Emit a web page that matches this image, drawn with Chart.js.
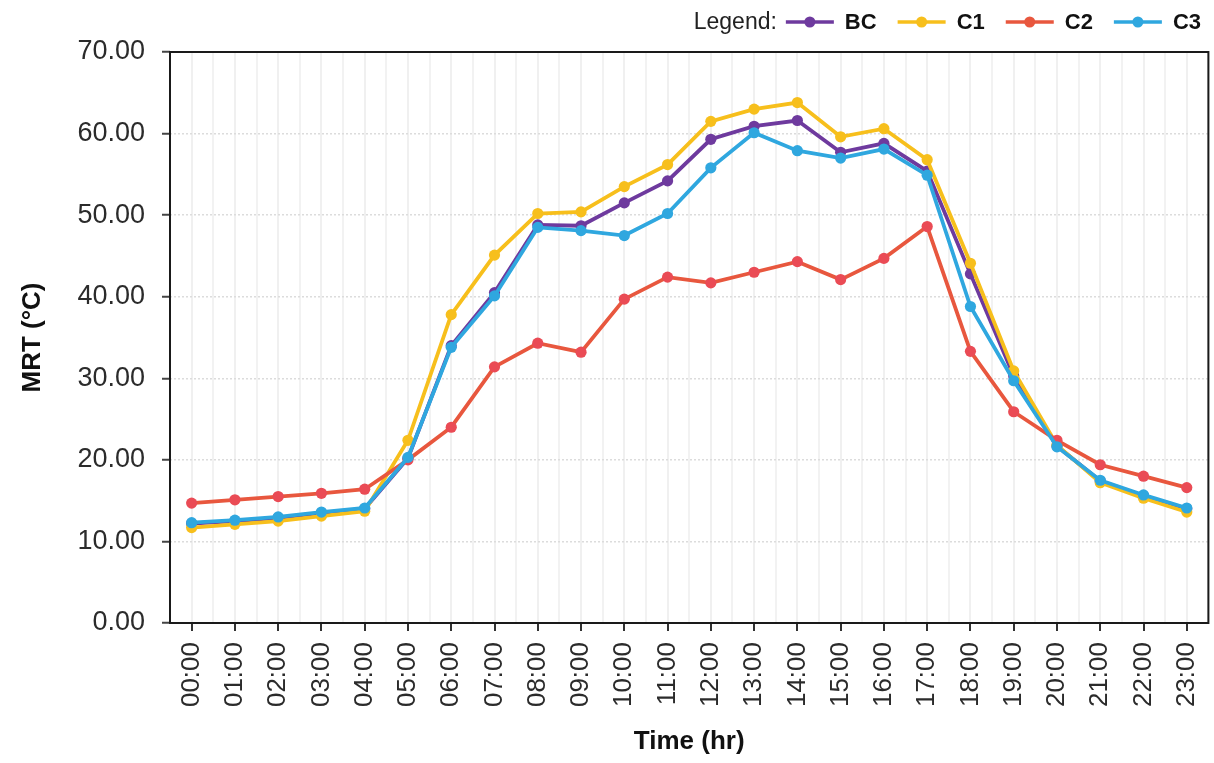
<!DOCTYPE html>
<html>
<head>
<meta charset="utf-8">
<script src="https://cdn.jsdelivr.net/npm/chart.js@4"></script>
<style>
  html, body { margin: 0; padding: 0; background: #ffffff; }
  #wrap { width: 1214px; height: 763px; }
</style>
</head>
<body>
<div id="wrap"><canvas id="mrt" width="1214" height="763"></canvas></div>
<script>
// Hourly mean radiant temperature (°C) per scenario
const hours = ['00:00','01:00','02:00','03:00','04:00','05:00','06:00','07:00','08:00','09:00','10:00','11:00',
               '12:00','13:00','14:00','15:00','16:00','17:00','18:00','19:00','20:00','21:00','22:00','23:00'];
const seriesNames = ['BC', 'C1', 'C2', 'C3'];
const bcValues = [12.2, 12.5, 12.9, 13.5, 14.0, 20.2, 34.0, 40.5, 48.8, 48.7, 51.5, 54.2,
                  59.3, 60.9, 61.6, 57.7, 58.8, 55.4, 42.8, 30.3, 21.7, 17.4, 15.6, 14.0];
const c1Values = [11.7, 12.1, 12.5, 13.1, 13.7, 22.4, 37.8, 45.1, 50.2, 50.4, 53.5, 56.2,
                  61.5, 63.0, 63.8, 59.6, 60.6, 56.8, 44.1, 30.9, 21.8, 17.2, 15.3, 13.6];
const c2Values = [14.7, 15.1, 15.5, 15.9, 16.4, 20.0, 24.0, 31.4, 34.3, 33.2, 39.7, 42.4,
                  41.7, 43.0, 44.3, 42.1, 44.7, 48.6, 33.3, 25.9, 22.4, 19.4, 18.0, 16.6];
const c3Values = [12.3, 12.6, 13.0, 13.6, 14.1, 20.3, 33.8, 40.1, 48.5, 48.1, 47.5, 50.2,
                  55.8, 60.1, 57.9, 57.0, 58.1, 54.9, 38.8, 29.7, 21.6, 17.5, 15.7, 14.1];
const yTicks = [0, 10, 20, 30, 40, 50, 60, 70];

const FONT = "'Liberation Sans', Arial, Helvetica, sans-serif";
const lineColors  = ['#6e3a9e', '#f7bf1c', '#e8573e', '#2fa7df'];
const pointColors = ['#6e3a9e', '#f7bf1c', '#ea4b55', '#2fa7df'];
const valueSets = [bcValues, c1Values, c2Values, c3Values];

const datasets = seriesNames.map((name, i) => ({
  label: name,
  data: valueSets[i],
  borderColor: lineColors[i],
  backgroundColor: pointColors[i],
  pointBackgroundColor: pointColors[i],
  pointBorderWidth: 0,
  pointRadius: 5.6,
  borderWidth: 3.8,
  tension: 0,
  fill: false,
  order: 3 - i,
  xAxisID: 'x',
  yAxisID: 'y'
}));

// Box around the plotting area
const frame = {
  id: 'frame',
  beforeDatasetsDraw(chart) {
    const { ctx, chartArea: a } = chart;
    ctx.save();
    ctx.strokeStyle = '#1a1a1a';
    ctx.lineWidth = 2;
    ctx.strokeRect(a.left, a.top, a.right - a.left, a.bottom - a.top);
    ctx.restore();
  }
};

// Inline legend in the top-right corner: "Legend:" followed by line+dot keys
const inlineLegend = {
  id: 'inlineLegend',
  afterDraw(chart) {
    const ctx = chart.ctx;
    const cy = 22;
    const keyLen = 48, gapText = 11, gapItem = 21;
    const regular = '23px ' + FONT, bold = 'bold 22px ' + FONT;
    ctx.save();
    ctx.font = regular;
    const head = 'Legend:';
    const headW = ctx.measureText(head).width;
    ctx.font = bold;
    const items = chart.data.datasets.map(ds => ({ ds, w: ctx.measureText(ds.label).width }));
    let total = headW + 9;
    items.forEach((it, i) => { total += keyLen + gapText + it.w + (i < items.length - 1 ? gapItem : 0); });
    let x = 1201 - total;
    ctx.textBaseline = 'middle';
    ctx.textAlign = 'left';
    ctx.fillStyle = '#222';
    ctx.font = regular;
    ctx.fillText(head, x, cy + 1);
    x += headW + 9;
    items.forEach((it) => {
      ctx.strokeStyle = it.ds.borderColor;
      ctx.lineWidth = 3.5;
      ctx.beginPath();
      ctx.moveTo(x, cy);
      ctx.lineTo(x + keyLen, cy);
      ctx.stroke();
      ctx.fillStyle = it.ds.borderColor;
      ctx.beginPath();
      ctx.arc(x + keyLen / 2, cy, 5.5, 0, Math.PI * 2);
      ctx.fill();
      x += keyLen + gapText;
      ctx.fillStyle = '#111';
      ctx.font = bold;
      ctx.fillText(it.ds.label, x, cy + 1);
      x += it.w + gapItem;
    });
    ctx.restore();
  }
};

new Chart(document.getElementById('mrt'), {
  type: 'line',
  data: { labels: hours, datasets },
  plugins: [frame, inlineLegend],
  options: {
    responsive: false,
    animation: false,
    devicePixelRatio: 1,
    layout: { padding: { top: 52, right: 4, left: 0, bottom: 0 } },
    plugins: { legend: { display: false }, tooltip: { enabled: false } },
    scales: {
      x: {
        type: 'category',
        position: 'bottom',
        offset: true,
        afterFit(s) { s.height = 140; s.paddingLeft = 0; s.paddingRight = 0; },
        border: { display: false },
        grid: {
          offset: false,
          color: '#f0f0f0',
          lineWidth: 2,
          drawTicks: true,
          tickLength: 8,
          tickColor: '#333',
          tickWidth: 2
        },
        ticks: {
          autoSkip: false,
          minRotation: 90,
          maxRotation: 90,
          padding: 11,
          color: '#2b2b2b',
          font: { family: FONT, size: 26 }
        },
        title: {
          display: true,
          text: 'Time (hr)',
          color: '#111',
          font: { family: FONT, size: 26, weight: 'bold' },
          padding: { top: 0, bottom: 6 }
        }
      },
      xb: {
        type: 'category',
        position: 'bottom',
        offset: true,
        afterFit(s) { s.height = 0; s.paddingLeft = 0; s.paddingRight = 0; },
        border: { display: false },
        grid: { offset: true, color: '#f2f2f2', lineWidth: 2, drawTicks: false },
        ticks: { display: false }
      },
      y: {
        position: 'left',
        min: 0,
        max: 70,
        afterFit(s) { s.width = 170; s.paddingTop = 0; s.paddingBottom = 0; },
        afterBuildTicks(s) { s.ticks = yTicks.map(v => ({ value: v })); },
        border: { display: false, dash: [2, 2] },
        grid: {
          color: '#dcdcdc',
          lineWidth: 1.5,
          drawTicks: true,
          tickLength: 8,
          tickColor: '#444',
          tickWidth: 2,
          tickBorderDash: []
        },
        ticks: {
          padding: 17,
          color: '#2b2b2b',
          font: { family: FONT, size: 27 },
          callback: v => Number(v).toFixed(2)
        },
        title: {
          display: true,
          text: 'MRT (°C)',
          color: '#111',
          font: { family: FONT, size: 26, weight: 'bold' },
          padding: { top: 17, bottom: 0 }
        }
      }
    }
  }
});
</script>
</body>
</html>
